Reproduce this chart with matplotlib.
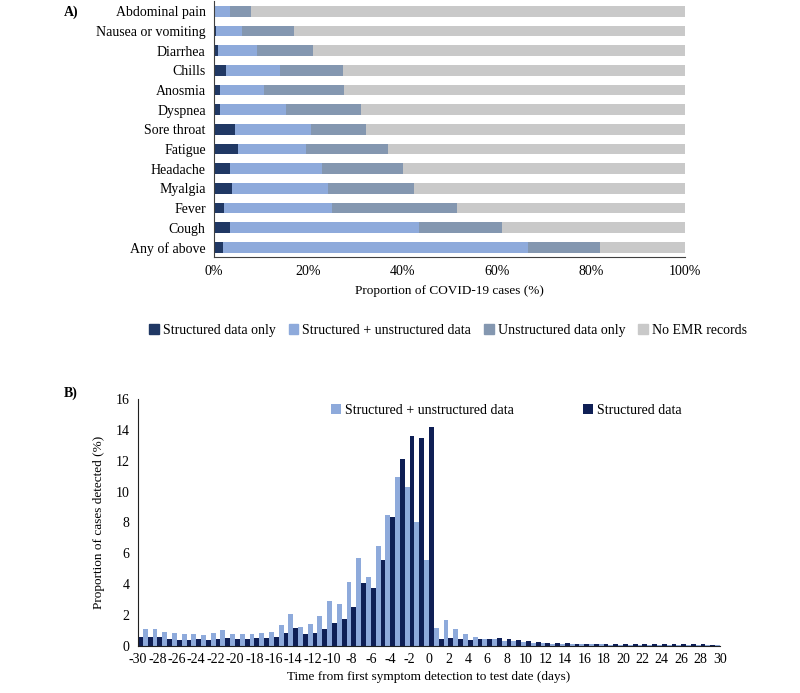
import numpy as np
import matplotlib.pyplot as plt
from matplotlib.patches import Patch

plt.rcParams['font.family'] = ['Liberation Serif', 'DejaVu Serif']
plt.rcParams['font.size'] = 10
plt.rcParams['axes.labelsize'] = 9.5
plt.rcParams['axes.unicode_minus'] = False

# panel A: cumulative edges (% of cases)
symptoms = ['Abdominal pain', 'Nausea or vomiting', 'Diarrhea', 'Chills', 'Anosmia',
            'Dyspnea', 'Sore throat', 'Fatigue', 'Headache', 'Myalgia', 'Fever',
            'Cough', 'Any of above']
struct_only = [0.3, 0.4, 0.9, 2.5, 1.3, 1.3, 4.4, 5.1, 3.5, 3.8, 2.2, 3.5, 2.0]
edge_both = [3.3, 6.0, 9.1, 14.0, 10.6, 15.2, 20.5, 19.5, 22.9, 24.2, 25.1, 43.6, 66.6]
edge_unstr = [7.9, 16.9, 21.0, 27.3, 27.5, 31.2, 32.3, 36.9, 40.2, 42.4, 51.6, 61.2, 81.9]

# panel B: proportion of cases detected by day
days = list(range(-30, 31))
struct_unstruct = [1.1, 1.06, 1.06, 0.89, 0.8, 0.74, 0.74, 0.69, 0.8, 1.02,
                   0.74, 0.76, 0.76, 0.82, 0.91, 1.32, 2.06, 1.23, 1.41, 1.9,
                   2.9, 2.7, 4.16, 5.69, 4.46, 6.49, 8.48, 10.95, 10.3, 8.05,
                   5.56, 1.13, 1.67, 1.06, 0.74, 0.56, 0.43, 0.41, 0.32, 0.3,
                   0.24, 0.17, 0.15, 0.13, 0.13, 0.1, 0.1, 0.08, 0.08, 0.07,
                   0.07, 0.07, 0.06, 0.06, 0.06, 0.05, 0.05, 0.05, 0.05, 0.04, 0.04]
structured = [0.54, 0.54, 0.54, 0.43, 0.39, 0.39, 0.43, 0.39, 0.45, 0.5,
              0.45, 0.45, 0.48, 0.52, 0.54, 0.8, 1.17, 0.76, 0.82, 1.06,
              1.45, 1.71, 2.49, 4.05, 3.77, 5.54, 8.33, 12.1, 13.64, 13.46,
              14.2, 0.45, 0.5, 0.45, 0.39, 0.43, 0.43, 0.48, 0.43, 0.39,
              0.32, 0.26, 0.2, 0.2, 0.2, 0.13, 0.13, 0.1, 0.1, 0.1,
              0.1, 0.1, 0.1, 0.1, 0.1, 0.08, 0.08, 0.08, 0.08, 0.06, 0.06]

both = np.array(edge_both) - np.array(struct_only)
unstr_only = np.array(edge_unstr) - np.array(edge_both)
no_emr = 100 - np.array(edge_unstr)

fig = plt.figure(figsize=(8, 6.93), dpi=100)

# ---- panel A
axA = fig.add_axes([0.2675, 0.629, 0.589, 0.369])
y = np.arange(len(symptoms))[::-1]
cols = ['#203864', '#8eaadb', '#8497b0', '#c9c9c9']
names = ['Structured data only', 'Structured + unstructured data',
         'Unstructured data only', 'No EMR records']
left = np.zeros(len(symptoms))
for vals, c in zip([struct_only, both, unstr_only, no_emr], cols):
    axA.barh(y, vals, left=left, height=0.54, color=c)
    left = left + np.array(vals)
axA.set_yticks(y)
axA.set_yticklabels(symptoms)
axA.set_ylim(-0.5, len(symptoms) - 0.5)
axA.set_xlim(0, 100)
axA.set_xticks(range(0, 101, 20))
axA.set_xticklabels([f'{v}%' for v in range(0, 101, 20)])
axA.tick_params(length=0, pad=6)
axA.set_xlabel('Proportion of COVID-19 cases (%)', labelpad=5)
for s in ['top', 'right']:
    axA.spines[s].set_visible(False)
for s in ['left', 'bottom']:
    axA.spines[s].set_color('#404040')
fig.legend([Patch(color=c) for c in cols], names, ncol=4, frameon=False,
           loc='center', bbox_to_anchor=(0.56, 0.523), handlelength=0.7,
           handleheight=0.7, handletextpad=0.3, columnspacing=0.9)
fig.text(0.089, 0.983, 'A)', fontweight='bold', ha='center', va='center')

# ---- panel B
axB = fig.add_axes([0.1725, 0.0683, 0.7275, 0.3556])
x = np.array(days)
axB.bar(x - 0.25, struct_unstruct, width=0.5, color='#8eaadb',
        label='Structured + unstructured data')
axB.bar(x + 0.25, structured, width=0.5, color='#0f1f55', label='Structured data')
axB.set_xlim(-30, 30)
axB.set_ylim(0, 16)
axB.set_yticks(range(0, 17, 2))
axB.set_xticks(range(-30, 31, 2))
axB.tick_params(length=0, pad=6)
axB.tick_params(axis='x', pad=5)
axB.set_xlabel('Time from first symptom detection to test date (days)', labelpad=4)
axB.set_ylabel('Proportion of cases detected (%)', labelpad=8)
for s in ['top', 'right']:
    axB.spines[s].set_visible(False)
for s in ['left', 'bottom']:
    axB.spines[s].set_color('#202020')
axB.legend(ncol=2, frameon=False, loc='center', bbox_to_anchor=(0.633, 0.955),
           handlelength=0.7, handleheight=0.7, handletextpad=0.3, columnspacing=5.0)
fig.text(0.089, 0.433, 'B)', fontweight='bold', ha='center', va='center')

fig.savefig('out.png', dpi=100)
